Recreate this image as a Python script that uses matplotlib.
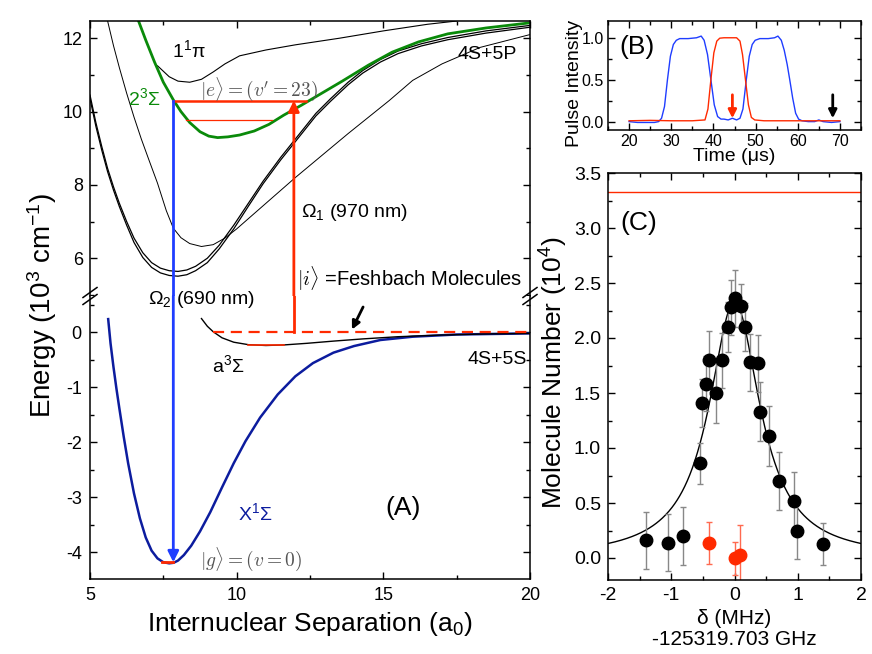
import matplotlib.pyplot as plt
import numpy as np
from matplotlib.lines import Line2D
from matplotlib.ticker import MultipleLocator

plt.rcParams['font.family'] = ['Liberation Sans', 'DejaVu Sans']
plt.rcParams['mathtext.fontset'] = 'custom'
plt.rcParams['mathtext.rm'] = 'Liberation Sans'
plt.rcParams['mathtext.it'] = 'Liberation Sans:italic'
plt.rcParams['axes.unicode_minus'] = False

RED = '#ff2a00'
BLUE = '#1f3dff'
NAVY = '#0c1c9e'
GREEN = '#0a8a0a'

# ---- panel A: potential curves, upper part (10^3 cm^-1) ----
r_1pi = [7.3, 7.7, 8.0, 8.4, 8.8, 9.2, 9.6, 10.1, 11.0, 12.0, 13.5, 15.0, 16.5, 17.5]
e_1pi = [11.25, 10.95, 10.83, 10.8, 10.88, 11.08, 11.3, 11.52, 11.68, 11.82, 12.0, 12.2, 12.38, 12.47]

r_23s = [6.65, 6.9, 7.2, 7.5, 7.84, 8.1, 8.4, 8.75, 9.05, 9.35, 9.7, 10.1, 10.6, 11.1,
         11.6, 12.2, 12.9, 13.6, 14.5, 15.3, 16.2, 17.2, 18.5, 20.0]
e_23s = [12.48, 11.95, 11.35, 10.8, 10.32, 10.0, 9.7, 9.45, 9.33, 9.29, 9.31, 9.36, 9.47, 9.65,
         9.9, 10.17, 10.5, 10.83, 11.27, 11.62, 11.9, 12.12, 12.28, 12.42]

r_thin = [5.6, 5.8, 6.0, 6.25, 6.5, 6.75, 7.0, 7.3, 7.6, 7.84, 8.1, 8.4, 8.8, 9.2, 9.6, 10.0,
          10.5, 11.0, 11.5, 12.0, 12.6, 13.2, 13.8, 14.5, 15.2, 16.0, 17.0, 18.3, 20.0]
e_thin = [12.47, 11.8, 11.2, 10.5, 9.85, 9.25, 8.7, 8.05, 7.3, 6.82, 6.56, 6.4, 6.32, 6.37, 6.55, 6.8,
          7.15, 7.5, 7.85, 8.2, 8.6, 9.0, 9.4, 9.85, 10.3, 10.85, 11.3, 11.75, 12.1]

r_dbl = [5.0, 5.2, 5.4, 5.6, 5.8, 6.0, 6.25, 6.5, 6.8, 7.1, 7.4, 7.7, 8.0, 8.3, 8.6, 9.0, 9.4,
         9.9, 10.4, 10.9, 11.5, 12.2, 12.7, 13.2, 13.8, 14.3, 14.9, 15.5, 16.3, 17.2, 18.5, 20.0]
e_dbl_a = [10.45, 9.7, 9.05, 8.45, 7.95, 7.5, 7.0, 6.55, 6.15, 5.88, 5.73, 5.66, 5.64, 5.68, 5.78,
           6.0, 6.35, 6.9, 7.5, 8.1, 8.75, 9.45, 9.95, 10.35, 10.8, 11.12, 11.42, 11.65, 11.85,
           12.02, 12.2, 12.35]
e_dbl_b = [10.35, 9.6, 8.95, 8.36, 7.86, 7.41, 6.9, 6.43, 6.02, 5.75, 5.6, 5.53, 5.51, 5.55, 5.66,
           5.88, 6.25, 6.8, 7.42, 8.03, 8.68, 9.38, 9.88, 10.28, 10.73, 11.05, 11.35, 11.58, 11.79,
           11.96, 12.14, 12.3]

# ---- panel A: lower part ----
r_a3s = [8.8, 9.0, 9.2, 9.5, 9.9, 10.4, 11.0, 11.6, 12.4, 13.3, 14.3, 15.5, 17.0, 18.5, 20.0]
e_a3s = [0.25, 0.11, 0.01, -0.1, -0.18, -0.225, -0.24, -0.23, -0.2, -0.16, -0.12, -0.08, -0.05, -0.03, -0.02]

r_x1s = [5.62, 5.7, 5.8, 5.9, 6.0, 6.15, 6.3, 6.5, 6.7, 6.9, 7.1, 7.3, 7.5, 7.7, 7.85, 8.0, 8.2,
         8.45, 8.75, 9.1, 9.5, 9.9, 10.3, 10.8, 11.4, 12.0, 12.6, 13.3, 14.0, 14.9, 16.0, 17.5, 20.0]
e_x1s = [0.24, -0.2, -0.63, -1.02, -1.38, -1.9, -2.38, -2.93, -3.38, -3.73, -3.97, -4.11, -4.18,
         -4.2, -4.19, -4.15, -4.05, -3.88, -3.62, -3.27, -2.82, -2.38, -1.98, -1.55, -1.13, -0.8,
         -0.56, -0.37, -0.25, -0.14, -0.08, -0.04, -0.02]

e_excited = 10.3      # |e>, v'=23
e_lower_level = 9.77
e_ground = -4.18      # |g>, v=0
r_omega2 = 7.84
r_omega1 = 11.95

# ---- panel B: pulses ----
blue_t = [20, 22, 24, 26, 27, 27.7, 28.4, 29.1, 29.8, 30.5, 31.2, 32, 34, 36, 37.1, 37.8, 38.6,
          39.4, 40.2, 41.0, 41.8, 42.5, 43.5, 44.5, 45.5, 46.3, 47.0, 47.8, 48.5, 49.2, 49.9, 51,
          53, 54.5, 55.3, 56.1, 56.8, 57.5, 58.1, 58.8, 59.5, 60.2, 61, 62.5, 64, 65, 66, 68, 70]
blue_i = [0.0, -0.01, -0.01, -0.01, 0.0, 0.04, 0.18, 0.5, 0.78, 0.92, 0.97, 0.99, 0.99, 1.0, 1.02,
          0.97, 0.8, 0.5, 0.2, 0.06, 0.03, 0.03, 0.02, 0.04, 0.02, 0.04, 0.15, 0.5, 0.78, 0.92,
          0.97, 0.99, 0.99, 1.0, 1.02, 0.97, 0.85, 0.68, 0.5, 0.28, 0.1, 0.03, 0.01, 0.0, 0.0,
          0.02, 0.0, -0.01, 0.0]
red_t = [20, 25, 30, 35, 38.0, 38.7, 39.4, 40.1, 40.8, 41.5, 42.5, 44, 45.5, 46.3, 46.9, 47.6,
         48.3, 49.0, 49.8, 52, 56, 60, 65, 70]
red_i = [0.01, 0.015, 0.01, 0.01, 0.02, 0.15, 0.5, 0.82, 0.96, 0.995, 1.0, 1.0, 1.0, 0.96, 0.8,
         0.5, 0.2, 0.05, 0.02, 0.01, 0.01, 0.01, 0.01, 0.01]

# ---- panel C: molecule numbers ----
x_black = [-1.40, -1.05, -0.81, -0.545, -0.51, -0.455, -0.40, -0.30, -0.20, -0.095, -0.053,
           0.01, 0.106, 0.159, 0.249, 0.365, 0.397, 0.545, 0.698, 0.947, 0.989, 1.397]
y_black = [0.16, 0.14, 0.20, 0.86, 1.41, 1.585, 1.80, 1.50, 1.80, 2.10, 2.28, 2.36, 2.29, 2.10,
           1.78, 1.77, 1.33, 1.11, 0.70, 0.52, 0.25, 0.125]
err_black = [0.26, 0.26, 0.26, 0.19, 0.22, 0.25, 0.26, 0.27, 0.25, 0.23, 0.25, 0.26, 0.2, 0.22,
             0.26, 0.26, 0.27, 0.27, 0.26, 0.26, 0.26, 0.19]
x_red = [-0.40, 0.0, 0.09]
y_red = [0.135, 0.0, 0.03]
err_red = [0.19, 0.15, 0.27]
n_initial = 3.33
fit_amp, fit_center, fit_hwhm = 2.33, 0.0, 0.49

W, H = 872, 654
fig = plt.figure(figsize=(W / 100, H / 100), dpi=100)


def box(l, t, r, b):
    return [l / W, 1 - b / H, (r - l) / W, (b - t) / H]


def style(ax, **kw):
    ax.tick_params(which='both', direction='in', labelsize=13, **kw)
    ax.tick_params(which='major', length=5, width=1)
    ax.tick_params(which='minor', length=3, width=1)
    for s in ax.spines.values():
        s.set_linewidth(1.1)


ax_up = fig.add_axes(box(90, 21, 530, 296))
ax_lo = fig.add_axes(box(90, 296, 530, 579))
ax_b = fig.add_axes(box(608, 21, 861, 130))
ax_c = fig.add_axes(box(608, 173, 861, 580))

# ---------------- panel A ----------------
for ax in (ax_up, ax_lo):
    ax.set_xlim(5, 20)
    ax.xaxis.set_major_locator(MultipleLocator(5))
    ax.xaxis.set_minor_locator(MultipleLocator(2.5))
ax_up.set_ylim(4.97, 12.47)
ax_up.yaxis.set_major_locator(MultipleLocator(2))
ax_up.yaxis.set_minor_locator(MultipleLocator(1))
ax_lo.set_ylim(-4.485, 0.66)
ax_lo.yaxis.set_major_locator(MultipleLocator(1))
ax_lo.yaxis.set_minor_locator(MultipleLocator(0.5))
style(ax_up, top=True, bottom=False, right=True, labelbottom=False, pad=5)
style(ax_lo, top=False, right=True, pad=6)
ax_up.spines['bottom'].set_visible(False)
ax_lo.spines['top'].set_visible(False)

ax_up.plot(r_1pi, e_1pi, color='k', lw=0.8)
ax_up.plot(r_thin, e_thin, color='k', lw=0.7)
ax_up.plot(r_dbl, e_dbl_a, color='k', lw=0.9)
ax_up.plot(r_dbl, e_dbl_b, color='k', lw=0.9)
ax_up.plot(r_23s, e_23s, color=GREEN, lw=2)
ax_up.plot([r_omega2, 12.38], [e_excited] * 2, color=RED, lw=1.8)
ax_up.plot([8.28, 11.2], [e_lower_level] * 2, color=RED, lw=0.9)

ax_lo.plot(r_x1s, e_x1s, color=NAVY, lw=1.8)
ax_lo.plot(r_a3s, e_a3s, color='k', lw=1.0)
ax_lo.plot([10.4, 11.6], [-0.235, -0.235], color=RED, lw=1.2)
ax_lo.plot([7.44, 7.84], [e_ground, e_ground], color=RED, lw=2)
ax_lo.plot([9.2, 20], [0, 0], color=RED, lw=1.6, ls=(0, (5, 3)))

# Omega_2 (blue, downward) and Omega_1 (red, upward)
ax_up.plot([r_omega2, r_omega2], [4.97, e_excited], color=BLUE, lw=2)
ax_lo.annotate('', xy=(r_omega2, e_ground), xytext=(r_omega2, 0.66),
               arrowprops=dict(arrowstyle='-|>', color=BLUE, lw=2, mutation_scale=16,
                               shrinkA=0, shrinkB=0))
ax_lo.plot([r_omega1, r_omega1], [0, 0.66], color=RED, lw=2)
ax_up.annotate('', xy=(r_omega1, e_excited), xytext=(r_omega1, 4.97),
               arrowprops=dict(arrowstyle='-|>', color=RED, lw=2, mutation_scale=16,
                               shrinkA=0, shrinkB=0))
ax_lo.annotate('', xy=(13.93, 0.05), xytext=(14.31, 0.46),
               arrowprops=dict(arrowstyle='-|>', color='k', lw=2, mutation_scale=12,
                               shrinkA=0, shrinkB=0))

ax_up.text(7.8, 11.68, '1$^1$π', fontsize=14, va='center')
ax_up.text(6.3, 10.37, '2$^3$Σ', fontsize=14, va='center', color=GREEN)
ax_up.text(8.75, 10.62, r"$|e\rangle = (v' = 23)$", fontsize=14, va='center', color='#555555',
           math_fontfamily='cm')
ax_up.text(12.19, 7.24, 'Ω$_1$ (970 nm)', fontsize=14, va='center')
ax_up.text(12.06, 5.45, r'$|i\rangle$ =Feshbach Molecules', fontsize=14.5, va='center',
           math_fontfamily='cm')
ax_up.text(19.55, 11.55, '4S+5P', fontsize=14, va='center', ha='right')
ax_lo.text(6.98, 0.59, 'Ω$_2$ (690 nm)', fontsize=14, va='center', zorder=5)
ax_lo.text(19.9, -0.5, '4S+5S', fontsize=14, va='center', ha='right')
ax_lo.text(9.16, -0.59, 'a$^3$Σ', fontsize=14, va='center')
ax_lo.text(10.05, -3.29, 'X$^1$Σ', fontsize=14, va='center', color=NAVY)
ax_lo.text(15.06, -3.2, '(A)', fontsize=19, va='center')
ax_lo.text(8.75, -4.13, r'$|g\rangle = (v = 0)$', fontsize=14, va='center', color='#555555',
           math_fontfamily='cm')

ax_lo.set_xlabel('Internuclear Separation (a$_0$)', fontsize=19, labelpad=4)
fig.text(42 / W, 1 - 305 / H, 'Energy (10$^3$ cm$^{-1}$)', fontsize=20, rotation=90,
         ha='center', va='center')

# axis break marks
for xb in (90, 530):
    for dy in (-3.5, 3.5):
        yb = 296 + dy
        fig.add_artist(Line2D([(xb - 7) / W, (xb + 7) / W], [1 - (yb + 5) / H, 1 - (yb - 5) / H],
                              color='k', lw=1.1))

# ---------------- panel B ----------------
ax_b.plot(blue_t, blue_i, color=BLUE, lw=1.0)
ax_b.plot(red_t, red_i, color=RED, lw=1.0)
ax_b.set_xlim(15, 75)
ax_b.set_ylim(-0.1, 1.2)
ax_b.xaxis.set_major_locator(MultipleLocator(10))
ax_b.xaxis.set_minor_locator(MultipleLocator(5))
ax_b.yaxis.set_major_locator(MultipleLocator(0.5))
ax_b.yaxis.set_minor_locator(MultipleLocator(0.25))
ax_b.yaxis.set_major_formatter('{x:.1f}')
style(ax_b, top=True, right=True, pad=3)
ax_b.tick_params(labelsize=11.5)
ax_b.annotate('', xy=(44.5, 0.04), xytext=(44.5, 0.32),
              arrowprops=dict(arrowstyle='-|>', color=RED, lw=2, mutation_scale=12,
                              shrinkA=0, shrinkB=0))
ax_b.annotate('', xy=(68.3, 0.04), xytext=(68.3, 0.32),
              arrowprops=dict(arrowstyle='-|>', color='k', lw=2, mutation_scale=12,
                              shrinkA=0, shrinkB=0))
ax_b.text(17.6, 0.89, '(B)', fontsize=19, va='center')
ax_b.set_xlabel('Time (μs)', fontsize=14, labelpad=-1)
ax_b.set_ylabel('Pulse Intensity', fontsize=14)
ax_b.yaxis.set_label_coords(-0.1, 0.43)

# ---------------- panel C ----------------
xf = np.linspace(-2, 2, 400)
ax_c.plot(xf, fit_amp / (1 + ((xf - fit_center) / fit_hwhm) ** 2), color='k', lw=1.0)
ax_c.axhline(n_initial, color=RED, lw=1.0)
ax_c.errorbar(x_black, y_black, yerr=err_black, fmt='o', color='k', ms=9, ecolor='#888888',
              elinewidth=1, capsize=2.5, capthick=1)
ax_c.errorbar(x_red, y_red, yerr=err_red, fmt='o', color=RED, ms=9, ecolor='#ff6a50',
              elinewidth=1, capsize=2.5, capthick=1)
ax_c.set_xlim(-2, 2)
ax_c.set_ylim(-0.2, 3.5)
ax_c.xaxis.set_major_locator(MultipleLocator(1))
ax_c.xaxis.set_minor_locator(MultipleLocator(0.5))
ax_c.yaxis.set_major_locator(MultipleLocator(0.5))
ax_c.yaxis.set_minor_locator(MultipleLocator(0.25))
ax_c.yaxis.set_major_formatter('{x:.1f}')
style(ax_c, top=True, right=True, pad=5)
ax_c.tick_params(labelsize=14)
ax_c.text(-1.81, 3.05, '(C)', fontsize=19, va='center')
ax_c.set_xlabel('δ (MHz)\n-125319.703 GHz', fontsize=15, labelpad=4, linespacing=1.1)
ax_c.set_ylabel('Molecule Number (10$^4$)', fontsize=19)
ax_c.yaxis.set_label_coords(-0.15, 0.51)

fig.savefig('out.png', dpi=100)
